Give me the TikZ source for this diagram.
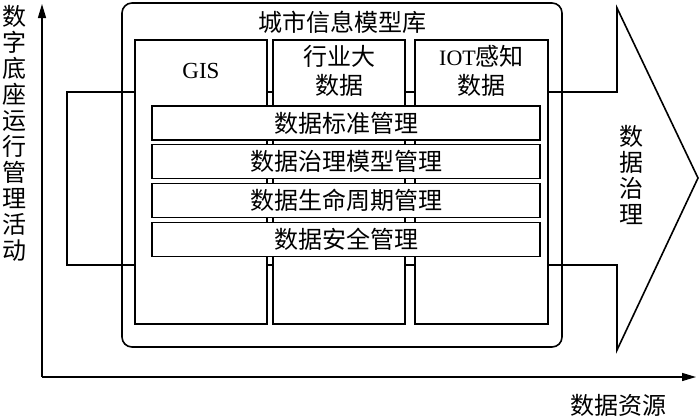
\documentclass[tikz,border=0pt]{standalone}
\usepackage{fontspec}
\setmainfont{Liberation Serif}
\newfontfamily\cjk{Noto Sans CJK SC}
\usetikzlibrary{arrows.meta}
\begin{document}
\begin{tikzpicture}[x=1pt,y=-1pt,
  line/.style={line width=1.6pt},
  box/.style={draw,line width=1.6pt,fill=white,inner sep=0pt},
  bar/.style={box,minimum width=388pt,minimum height=34pt,font=\cjk\fontsize{24}{26}\selectfont},
  col/.style={box,minimum height=284pt},
  cn/.style={font=\cjk\fontsize{24}{29}\selectfont,inner sep=0pt,align=center},
  vert/.style={font=\cjk\fontsize{24}{26}\selectfont,align=center,inner sep=0pt},
  axis/.style={line width=1.4pt,-{Triangle[length=14pt,width=8pt]}}]
\useasboundingbox (0,0) rectangle (700,418);
% axes
\coordinate (o) at (42,377);
\coordinate (ytop) at (42,4);
\coordinate (xend) at (696,377);
\draw[axis] (o) -- (ytop);
\draw[axis] (o) -- (xend);
\node[vert] (ylab) at (14,133) {数\\字\\底\\座\\运\\行\\管\\理\\活\\动};
\node[cn] (xlab) at (618,405) {数据资源};
% big arrow
\coordinate (a1) at (67,92);
\coordinate (a2) at (617,92);
\coordinate (a3) at (617,8);
\coordinate (a4) at (698,178);
\coordinate (a5) at (617,350);
\coordinate (a6) at (617,265);
\coordinate (a7) at (67,265);
\draw[line,line join=miter] (a1) -- (a2) -- (a3) -- (a4) -- (a5) -- (a6) -- (a7) -- cycle;
\node[vert] (gov) at (631,175) {数\\据\\治\\理};
% library box
\node[draw,line width=1.6pt,rounded corners=10pt,minimum width=440pt,minimum height=344pt,inner sep=0pt] (lib) at (342,175) {};
\node[cn] (libt) at (342,22) {城市信息模型库};
% columns
\node[col,minimum width=132pt] (c1) at (201,182) {};
\node[col,minimum width=132pt] (c2) at (339,182) {};
\node[col,minimum width=133pt] (c3) at (481.5,182) {};
\node[cn,font=\fontsize{23}{29}\selectfont] (t1) at (201,71) {GIS};
\node[cn] (t2) at (339,71) {行业大\\数据};
\node[cn] (t3) at (481.5,71) {{\rmfamily\fontsize{22}{29}\selectfont IOT}感知\\数据};
% bars
\node[bar] (b1) at (346,123) {数据标准管理};
\node[bar] (b2) at (346,161.5) {数据治理模型管理};
\node[bar] (b3) at (346,200.5) {数据生命周期管理};
\node[bar] (b4) at (346,239.5) {数据安全管理};
\end{tikzpicture}
\end{document}
